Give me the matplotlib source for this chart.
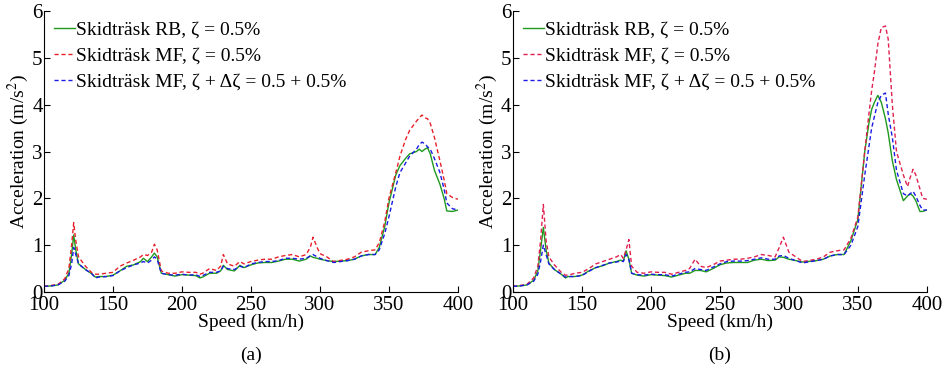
import numpy as np
import matplotlib
matplotlib.use('Agg')
import matplotlib.pyplot as plt

plt.rcParams['font.family'] = ['Liberation Serif', 'DejaVu Serif']
plt.rcParams['mathtext.fontset'] = 'stix'

# ---- panel (a) data ----
speed_a = [100, 105, 110, 115, 118, 120, 121.5, 123, 125, 130, 135, 137, 140, 145,
           150, 155, 160, 165, 170, 172, 175, 178, 180, 182, 185, 190, 195, 200,
           205, 210, 213, 215, 220, 225, 228, 230, 233, 238, 242, 245, 250, 255,
           260, 265, 270, 275, 280, 285, 290, 293, 295, 298, 300, 305, 310, 320,
           325, 330, 335, 340, 343, 347, 350, 355, 358, 362, 365, 370, 372, 374,
           376, 378, 380, 383, 387, 390, 392, 396, 400]
rb_a = [0.12, 0.13, 0.15, 0.25, 0.40, 0.80, 1.22, 0.90, 0.60, 0.48, 0.38, 0.32, 0.33, 0.33,
        0.36, 0.45, 0.55, 0.58, 0.65, 0.72, 0.65, 0.75, 0.83, 0.75, 0.40, 0.37, 0.34, 0.37,
        0.36, 0.35, 0.30, 0.32, 0.40, 0.40, 0.45, 0.57, 0.48, 0.45, 0.57, 0.52, 0.58, 0.62,
        0.63, 0.63, 0.66, 0.70, 0.70, 0.66, 0.70, 0.77, 0.74, 0.72, 0.70, 0.67, 0.65, 0.67,
        0.70, 0.77, 0.80, 0.80, 0.95, 1.40, 1.90, 2.50, 2.70, 2.85, 2.95, 3.00, 3.05, 3.00,
        3.05, 3.08, 2.95, 2.60, 2.30, 2.00, 1.73, 1.72, 1.75]
mf_a = [0.12, 0.14, 0.16, 0.28, 0.50, 1.00, 1.48, 1.10, 0.75, 0.55, 0.40, 0.38, 0.38, 0.40,
        0.42, 0.55, 0.62, 0.68, 0.75, 0.80, 0.78, 0.85, 1.02, 0.90, 0.45, 0.40, 0.40, 0.43,
        0.42, 0.42, 0.38, 0.40, 0.50, 0.46, 0.55, 0.80, 0.60, 0.55, 0.65, 0.60, 0.65, 0.68,
        0.70, 0.70, 0.75, 0.78, 0.80, 0.75, 0.80, 0.95, 1.17, 0.95, 0.82, 0.75, 0.65, 0.70,
        0.75, 0.85, 0.88, 0.90, 1.05, 1.50, 2.00, 2.55, 2.90, 3.25, 3.45, 3.65, 3.72, 3.78,
        3.72, 3.70, 3.60, 3.30, 2.80, 2.40, 2.10, 2.02, 1.98]
mfd_a = [0.12, 0.13, 0.15, 0.23, 0.35, 0.60, 0.95, 0.80, 0.60, 0.48, 0.38, 0.30, 0.32, 0.33,
         0.35, 0.45, 0.52, 0.58, 0.62, 0.65, 0.62, 0.68, 0.75, 0.70, 0.40, 0.37, 0.36, 0.38,
         0.36, 0.37, 0.33, 0.35, 0.42, 0.42, 0.45, 0.55, 0.50, 0.48, 0.55, 0.52, 0.60, 0.63,
         0.65, 0.65, 0.67, 0.72, 0.72, 0.70, 0.72, 0.77, 0.80, 0.75, 0.72, 0.67, 0.63, 0.67,
         0.70, 0.77, 0.80, 0.80, 0.90, 1.25, 1.60, 2.25, 2.55, 2.75, 2.90, 3.05, 3.15, 3.20,
         3.17, 3.10, 3.05, 2.85, 2.55, 2.20, 1.90, 1.78, 1.75]

# ---- panel (b) data ----
speed_b = [100, 105, 110, 115, 118, 120, 122, 124, 126, 130, 135, 138, 140, 145,
           150, 155, 160, 165, 170, 175, 178, 180, 182, 184, 186, 190, 195, 200,
           205, 210, 215, 220, 225, 228, 232, 236, 240, 245, 250, 255, 260, 265,
           270, 275, 280, 285, 290, 293, 296, 300, 305, 310, 320, 325, 330, 335,
           340, 345, 350, 355, 358, 360, 362, 364.5, 367, 370, 372, 375, 378, 383,
           386, 388, 390, 392, 395, 397, 400]
rb_b = [0.12, 0.13, 0.15, 0.25, 0.45, 0.90, 1.38, 0.90, 0.62, 0.48, 0.38, 0.30, 0.33, 0.33,
        0.36, 0.45, 0.52, 0.56, 0.62, 0.65, 0.68, 0.66, 0.88, 0.70, 0.40, 0.36, 0.34, 0.37,
        0.36, 0.35, 0.32, 0.36, 0.40, 0.40, 0.46, 0.46, 0.43, 0.50, 0.58, 0.62, 0.63, 0.63,
        0.63, 0.68, 0.70, 0.67, 0.68, 0.75, 0.74, 0.70, 0.67, 0.64, 0.67, 0.70, 0.77, 0.80,
        0.80, 1.10, 1.55, 3.00, 3.60, 3.90, 4.05, 4.20, 4.05, 3.70, 3.40, 2.80, 2.40, 1.95,
        2.05, 2.10, 2.05, 1.95, 1.72, 1.72, 1.75]
mf_b = [0.12, 0.14, 0.16, 0.30, 0.55, 1.10, 1.87, 1.10, 0.75, 0.58, 0.42, 0.36, 0.36, 0.40,
        0.42, 0.50, 0.60, 0.65, 0.70, 0.75, 0.80, 0.72, 0.90, 1.12, 0.55, 0.42, 0.40, 0.43,
        0.42, 0.42, 0.38, 0.42, 0.46, 0.50, 0.70, 0.55, 0.52, 0.58, 0.66, 0.68, 0.70, 0.70,
        0.72, 0.75, 0.80, 0.78, 0.75, 0.95, 1.17, 0.85, 0.75, 0.65, 0.70, 0.75, 0.85, 0.88,
        0.90, 1.15, 1.60, 3.00, 3.80, 4.30, 4.70, 5.30, 5.65, 5.68, 5.40, 4.00, 3.00, 2.50,
        2.25, 2.45, 2.62, 2.50, 2.20, 2.00, 1.98]
mfd_b = [0.12, 0.13, 0.15, 0.23, 0.38, 0.65, 1.00, 0.80, 0.60, 0.48, 0.38, 0.32, 0.33, 0.33,
         0.35, 0.44, 0.52, 0.57, 0.62, 0.64, 0.66, 0.65, 0.80, 0.70, 0.40, 0.37, 0.36, 0.38,
         0.37, 0.37, 0.34, 0.38, 0.42, 0.43, 0.50, 0.48, 0.46, 0.53, 0.60, 0.65, 0.66, 0.66,
         0.67, 0.70, 0.73, 0.70, 0.70, 0.77, 0.78, 0.72, 0.67, 0.62, 0.67, 0.70, 0.77, 0.80,
         0.80, 1.00, 1.40, 2.50, 3.10, 3.50, 3.75, 4.05, 4.20, 4.25, 3.80, 3.30, 2.60, 2.10,
         2.05, 2.10, 2.15, 2.05, 1.85, 1.75, 1.75]

labels = ['Skidträsk RB, ζ = 0.5%',
          'Skidträsk MF, ζ = 0.5%',
          'Skidträsk MF, ζ + Δζ = 0.5 + 0.5%']
colors = ['#1f9a1f', '#e8202a', '#1a1ae6']
colors_b = ['#1f9a1f', '#e0204e', '#1a1ae6']

fig = plt.figure(figsize=(9.47, 3.69), dpi=100)

panels = [
    (0.0465, speed_a, [rb_a, mf_a, mfd_a], colors, '(a)'),
    (0.5417, speed_b, [rb_b, mf_b, mfd_b], colors_b, '(b)'),
]

for left, x, series, cols, tag in panels:
    ax = fig.add_axes([left, 0.2087, 0.437, 0.7613])
    ax.plot(x, series[0], color=cols[0], lw=1.0, label=labels[0])
    ax.plot(x, series[1], color=cols[1], lw=1.0, dashes=(3, 2), label=labels[1])
    ax.plot(x, series[2], color=cols[2], lw=1.0, dashes=(3, 2), label=labels[2])
    ax.set_xlim(100, 400)
    ax.set_ylim(0, 6)
    ax.set_xticks([100, 150, 200, 250, 300, 350, 400])
    ax.set_yticks([0, 1, 2, 3, 4, 5, 6])
    for s in ['top', 'right']:
        ax.spines[s].set_visible(False)
    ax.tick_params(direction='in', length=4, labelsize=15)
    ax.tick_params(axis='x', pad=3)
    ax.tick_params(axis='y', pad=1)
    ax.set_xlabel('Speed (km/h)', fontsize=14, labelpad=-1)
    ax.set_ylabel('Acceleration (m/s$^2$)', fontsize=14, labelpad=1)
    leg = ax.legend(loc='upper left', frameon=False, fontsize=14,
                    handlelength=1.1, handletextpad=0.05, labelspacing=0.45,
                    borderaxespad=0.1, bbox_to_anchor=(0.0, 1.0))
    ax.text(0.5, -0.225, tag, transform=ax.transAxes, ha='center', va='center',
            fontsize=14)

fig.savefig('out.png', dpi=100)
